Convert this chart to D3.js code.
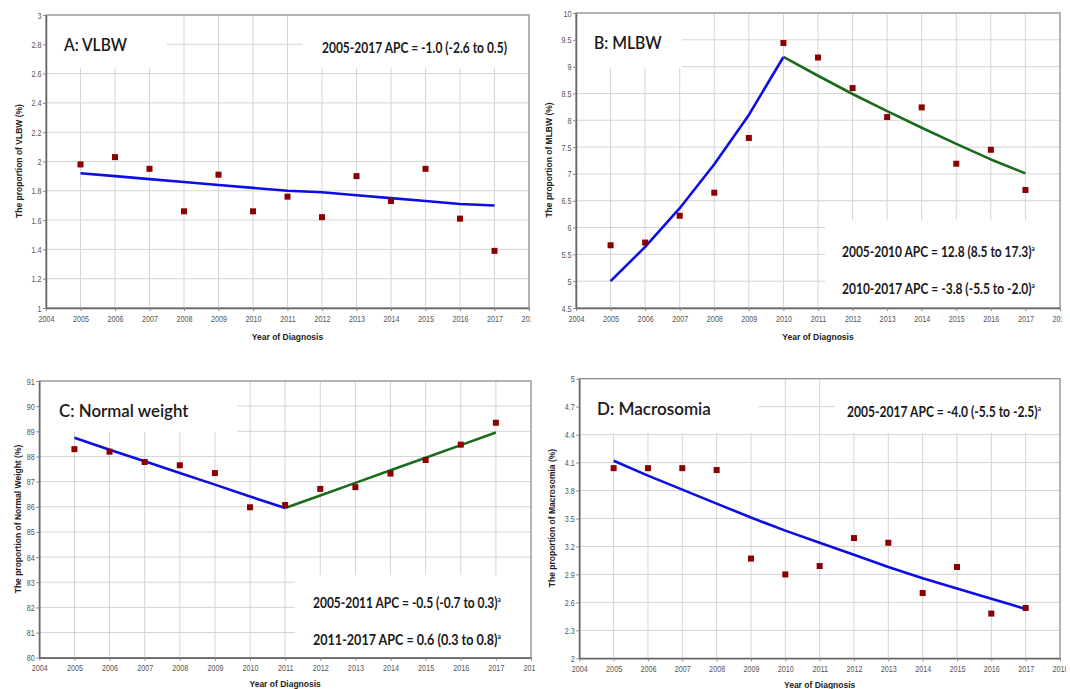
<!DOCTYPE html>
<html>
<head>
<meta charset="utf-8">
<script src="https://cdn.jsdelivr.net/npm/d3@7"></script>
<style>
  body { margin: 0; background: #fff; }
  svg { display: block; }
  .tick text { fill: #555; font-family: "Liberation Sans", Arial, sans-serif; font-size: 9.5px; }
  .axisTitle { font-family: "Liberation Sans", Arial, sans-serif; font-weight: bold; font-size: 8.5px; fill: #222; }
  .panelTitle { font-family: Lato, "Open Sans", sans-serif; font-weight: 600; font-size: 18px; fill: #1a1a1a; }
  .apc { font-family: Lato, "Open Sans", sans-serif; font-weight: bold; font-size: 15px; fill: #1a1a1a; }
</style>
</head>
<body>
<div id="chart"></div>
<script>
// Years on the x axis
var years = [2005, 2006, 2007, 2008, 2009, 2010, 2011, 2012, 2013, 2014, 2015, 2016, 2017];
var xTickYears = [2004, 2005, 2006, 2007, 2008, 2009, 2010, 2011, 2012, 2013, 2014, 2015, 2016, 2017, 2018];

// A: VLBW
var vlbwObserved = [1.98, 2.03, 1.95, 1.66, 1.91, 1.66, 1.76, 1.62, 1.90, 1.73, 1.95, 1.61, 1.39];
var vlbwModel = [1.92, 1.90, 1.88, 1.86, 1.84, 1.82, 1.80, 1.79, 1.77, 1.75, 1.73, 1.71, 1.70];
var vlbwTicks = [1, 1.2, 1.4, 1.6, 1.8, 2, 2.2, 2.4, 2.6, 2.8, 3];
var vlbwApc = ["2005-2017 APC = -1.0 (-2.6 to 0.5)"];

// B: MLBW
var mlbwObserved = [5.67, 5.72, 6.22, 6.65, 7.67, 9.44, 9.17, 8.60, 8.06, 8.24, 7.19, 7.45, 6.70];
var mlbwModel1 = [5.00, 5.64, 6.36, 7.18, 8.10, 9.18];              // 2005-2010
var mlbwModel2 = [9.18, 8.83, 8.49, 8.17, 7.86, 7.56, 7.27, 7.01];  // 2010-2017
var mlbwTicks = [4.5, 5, 5.5, 6, 6.5, 7, 7.5, 8, 8.5, 9, 9.5, 10];
var mlbwApc = ["2005-2010 APC = 12.8 (8.5 to 17.3)", "2010-2017 APC = -3.8 (-5.5 to -2.0)"];

// C: Normal weight
var normalObserved = [88.29, 88.19, 87.78, 87.65, 87.34, 85.98, 86.07, 86.71, 86.78, 87.32, 87.86, 88.47, 89.34];
var normalModel1 = [88.74, 88.27, 87.81, 87.34, 86.88, 86.41, 85.95];   // 2005-2011
var normalModel2 = [85.95, 86.45, 86.95, 87.45, 87.95, 88.45, 88.95];   // 2011-2017
var normalTicks = [80, 81, 82, 83, 84, 85, 86, 87, 88, 89, 90, 91];
var normalApc = ["2005-2011 APC = -0.5 (-0.7 to 0.3)", "2011-2017 APC = 0.6 (0.3 to 0.8)"];

// D: Macrosomia
var macroObserved = [4.04, 4.04, 4.04, 4.02, 3.07, 2.90, 2.99, 3.29, 3.24, 2.70, 2.98, 2.48, 2.54];
var macroModel = [4.12, 3.96, 3.81, 3.66, 3.51, 3.37, 3.24, 3.11, 2.98, 2.86, 2.75, 2.64, 2.53];
var macroTicks = [2, 2.3, 2.6, 2.9, 3.2, 3.5, 3.8, 4.1, 4.4, 4.7, 5];
var macroApc = ["2005-2017 APC = -4.0 (-5.5 to -2.5)"];

var blue = "#0d0de6";
var green = "#1c6b1c";
var marker = "#8b0000";

var svg = d3.select("#chart").append("svg")
    .attr("width", 1070)
    .attr("height", 689);

var defs = svg.append("defs");

// stretch or squeeze a text horizontally so it spans the width seen in the reference
function fitText(sel, x, y, w) {
    var bw = sel.node().getBBox().width;
    sel.attr("transform", `translate(${x},${y}) scale(${w / bw},1)`);
}

var panels = [
    { id: "a", left: 46, right: 529, top: 15, bottom: 308, clip: [0, 531],
      ticks: vlbwTicks, observed: vlbwObserved,
      segments: [{ yrs: years, vals: vlbwModel, color: blue }],
      title: "A: VLBW", titleX: 64, titleY: 51, titleW: 64,
      titleBox: [46, 167, 15, 68], noteBox: [303, 529, 15, 68],
      apc: vlbwApc, sup: false, apcX: 322, apcY: [53], apcW: 185,
      yLabel: "The proportion of VLBW (%)", yLabelX: 19, yLabelY: 161, xLabelY: 340 },
    { id: "b", left: 576, right: 1060, top: 13, bottom: 308, clip: [535, 1062],
      ticks: mlbwTicks, observed: mlbwObserved,
      segments: [{ yrs: years.slice(0, 6), vals: mlbwModel1, color: blue },
                 { yrs: years.slice(5), vals: mlbwModel2, color: green }],
      title: "B: MLBW", titleX: 594, titleY: 49, titleW: 68,
      titleBox: [576, 682, 13, 68], noteBox: [825, 1060, 220, 308],
      apc: mlbwApc, sup: true, apcX: 842, apcY: [257, 294], apcW: 193,
      yLabel: "The proportion of MLBW (%)", yLabelX: 549, yLabelY: 160, xLabelY: 340 },
    { id: "c", left: 39.3, right: 531, top: 381, bottom: 657.7, clip: [0, 535],
      ticks: normalTicks, observed: normalObserved,
      segments: [{ yrs: years.slice(0, 7), vals: normalModel1, color: blue },
                 { yrs: years.slice(6), vals: normalModel2, color: green }],
      title: "C: Normal weight", titleX: 59, titleY: 417, titleW: 130,
      titleBox: [39.3, 237, 381, 432], noteBox: [295, 531, 575, 657.7],
      apc: normalApc, sup: true, apcX: 313, apcY: [608, 645], apcW: 188,
      yLabel: "The proportion of Normal Weight (%)", yLabelX: 18, yLabelY: 519, xLabelY: 687 },
    { id: "d", left: 579.3, right: 1060, top: 378.7, bottom: 658.3, clip: [536, 1066],
      ticks: macroTicks, observed: macroObserved,
      segments: [{ yrs: years, vals: macroModel, color: blue }],
      title: "D: Macrosomia", titleX: 597, titleY: 415, titleW: 114,
      titleBox: [579.3, 758, 378.7, 433], noteBox: [835, 1060, 378.7, 433],
      apc: macroApc, sup: true, apcX: 847, apcY: [417], apcW: 194,
      yLabel: "The proportion of Macrosomia (%)", yLabelX: 551.5, yLabelY: 518, xLabelY: 688 }
];

panels.forEach(function(p) {
    defs.append("clipPath").attr("id", "clip-" + p.id)
        .append("rect")
        .attr("x", p.clip[0]).attr("y", 0)
        .attr("width", p.clip[1] - p.clip[0]).attr("height", 689);

    var g = svg.append("g").attr("clip-path", `url(#clip-${p.id})`);

    var xScale = d3.scaleLinear().domain([2004, 2018]).range([p.left, p.right]);
    var yScale = d3.scaleLinear().domain([p.ticks[0], p.ticks[p.ticks.length - 1]]).range([p.bottom, p.top]);

    // gridlines
    g.append("g").selectAll("line")
        .data(years)
        .join("line")
        .attr("x1", d => xScale(d)).attr("x2", d => xScale(d))
        .attr("y1", p.top).attr("y2", p.bottom)
        .attr("stroke", "#d5d5d5").attr("stroke-width", 1);

    g.append("g").selectAll("line")
        .data(p.ticks.slice(1, -1))
        .join("line")
        .attr("x1", p.left).attr("x2", p.right)
        .attr("y1", d => yScale(d)).attr("y2", d => yScale(d))
        .attr("stroke", "#d5d5d5").attr("stroke-width", 1);

    // white boxes behind the title and the APC notes
    [p.titleBox, p.noteBox].forEach(function(b) {
        g.append("rect")
            .attr("x", b[0]).attr("y", b[2])
            .attr("width", b[1] - b[0]).attr("height", b[3] - b[2])
            .attr("fill", "#fff");
    });

    // frame
    g.append("rect")
        .attr("x", p.left).attr("y", p.top)
        .attr("width", p.right - p.left).attr("height", p.bottom - p.top)
        .attr("fill", "none").attr("stroke", "#8c8c8c").attr("stroke-width", 1.3);

    // axes
    var bottomAxis = d3.axisBottom(xScale)
        .tickValues(xTickYears)
        .tickFormat(d3.format("d"))
        .tickSize(3).tickSizeOuter(0).tickPadding(4);
    var leftAxis = d3.axisLeft(yScale)
        .tickValues(p.ticks)
        .tickFormat(d => d)
        .tickSize(3).tickSizeOuter(0).tickPadding(3);

    var bx = g.append("g").attr("transform", `translate(0, ${p.bottom})`).call(bottomAxis);
    var ly = g.append("g").attr("transform", `translate(${p.left}, 0)`).call(leftAxis);
    [bx, ly].forEach(function(a) {
        a.select(".domain").attr("stroke", "#666").attr("stroke-width", 1.5);
        a.selectAll(".tick line").attr("stroke", "#888");
        a.selectAll(".tick text").attr("fill", "#555").attr("transform", "scale(0.76,1)");
    });

    // model lines
    p.segments.forEach(function(s) {
        var line = d3.line()
            .x((d, i) => xScale(s.yrs[i]))
            .y(d => yScale(d));
        g.append("path")
            .datum(s.vals)
            .attr("d", line)
            .attr("fill", "none")
            .attr("stroke", s.color)
            .attr("stroke-width", 2.6)
            .attr("stroke-linejoin", "round");
    });

    // observed points
    g.append("g").selectAll("rect")
        .data(p.observed)
        .join("rect")
        .attr("x", (d, i) => xScale(years[i]) - 3)
        .attr("y", d => yScale(d) - 3)
        .attr("width", 6).attr("height", 6)
        .attr("fill", marker);

    // titles and labels
    var t = g.append("text").attr("class", "panelTitle").text(p.title);
    fitText(t, p.titleX, p.titleY, p.titleW);

    p.apc.forEach(function(str, i) {
        var a = g.append("text").attr("class", "apc");
        a.append("tspan").text(str);
        if (p.sup) {
            a.append("tspan").attr("font-size", "8px").attr("dy", "-6").text("a");
        }
        fitText(a, p.apcX, p.apcY[i], p.apcW);
    });

    g.append("text")
        .attr("class", "axisTitle")
        .attr("transform", `translate(${p.yLabelX}, ${p.yLabelY}) rotate(-90)`)
        .attr("text-anchor", "middle")
        .attr("dominant-baseline", "central")
        .text(p.yLabel);

    g.append("text")
        .attr("class", "axisTitle")
        .attr("x", (p.left + p.right) / 2)
        .attr("y", p.xLabelY)
        .attr("text-anchor", "middle")
        .text("Year of Diagnosis");
});
</script>
</body>
</html>
